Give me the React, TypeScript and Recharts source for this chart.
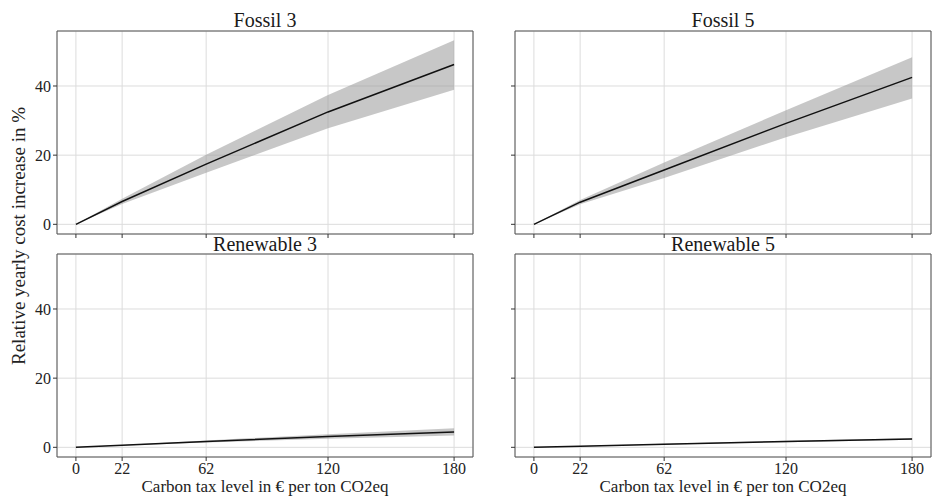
import React from 'react';
import { ComposedChart, Area, Line, XAxis, YAxis, CartesianGrid, ReferenceArea } from 'recharts';

// carbon tax levels (€/t CO2eq)
const taxLevels = [0, 22, 62, 120, 180];
const yTicks = [0, 20, 40];

const fossil3Mean = [0, 6.6, 17.4, 32.5, 46.2];
const fossil3Low = [0, 5.9, 14.9, 27.8, 38.9];
const fossil3High = [0, 7.4, 20.1, 37.4, 53.2];

const fossil5Mean = [0, 6.4, 15.7, 29.2, 42.5];
const fossil5Low = [0, 5.8, 13.4, 25.2, 36.4];
const fossil5High = [0, 7.0, 17.9, 33.0, 48.3];

const renewable3Mean = [0, 0.6, 1.7, 3.1, 4.4];
const renewable3Low = [0, 0.5, 1.4, 2.5, 3.4];
const renewable3High = [0, 0.7, 2.0, 3.8, 5.5];

const renewable5Mean = [0, 0.3, 0.9, 1.7, 2.4];
const renewable5Low = [0, 0.25, 0.8, 1.5, 2.2];
const renewable5High = [0, 0.35, 1.0, 1.9, 2.6];

const X_DOMAIN: [number, number] = [-9, 189];
const Y_DOMAIN: [number, number] = [-2.8, 55.9];
const FONT = '"Liberation Serif", "DejaVu Serif", serif';

const rows = (mean: number[], low: number[], high: number[]) =>
  taxLevels.map((x, i) => ({ x, mean: mean[i], band: [low[i], high[i]] }));

type PanelProps = {
  title: string;
  data: { x: number; mean: number; band: number[] }[];
  left: number;
  top: number;
  width: number;
  height: number;
  margin: { top: number; right: number; bottom: number; left: number };
  yAxisWidth: number;
  showYLabels: boolean;
  showXLabels: boolean;
  titleOffset: number;
};

function Panel(p: PanelProps) {
  const blank = () => '';
  return (
    <div style={{ position: 'absolute', left: p.left, top: p.top }}>
      <ComposedChart width={p.width} height={p.height} data={p.data} margin={p.margin}>
        <CartesianGrid stroke="#dcdcdc" strokeWidth={1} />
        <XAxis
          dataKey="x"
          type="number"
          domain={X_DOMAIN}
          ticks={taxLevels}
          allowDataOverflow
          axisLine={false}
          tickSize={4}
          tickMargin={2}
          tickLine={{ stroke: '#333' }}
          tick={{ fontSize: 16, fill: '#222' }}
          tickFormatter={p.showXLabels ? undefined : blank}
          height={p.showXLabels ? 41 : 6}
          label={
            p.showXLabels
              ? { value: 'Carbon tax level in € per ton CO2eq', position: 'insideBottom', offset: 6, fontSize: 17, fill: '#222' }
              : undefined
          }
        />
        <YAxis
          type="number"
          domain={Y_DOMAIN}
          ticks={yTicks}
          allowDataOverflow
          axisLine={false}
          width={p.yAxisWidth}
          tickSize={4}
          tickMargin={2}
          tickLine={{ stroke: '#333' }}
          tick={{ fontSize: 16, fill: '#222' }}
          tickFormatter={p.showYLabels ? undefined : blank}
        />
        <Area
          type="linear"
          dataKey="band"
          stroke="none"
          fill="#999999"
          fillOpacity={0.55}
          isAnimationActive={false}
        />
        <Line
          type="linear"
          dataKey="mean"
          stroke="#111"
          strokeWidth={1.5}
          dot={false}
          isAnimationActive={false}
        />
        <ReferenceArea
          x1={X_DOMAIN[0]}
          x2={X_DOMAIN[1]}
          y1={Y_DOMAIN[0]}
          y2={Y_DOMAIN[1]}
          fill="none"
          stroke="#555"
          strokeWidth={1}
          ifOverflow="visible"
          label={{ value: p.title, position: 'top', offset: p.titleOffset, fontSize: 20, fill: '#1a1a1a' }}
        />
      </ComposedChart>
    </div>
  );
}

export default function App() {
  return (
    <div
      style={{
        position: 'absolute',
        left: 0,
        top: 0,
        width: 932,
        height: 498,
        background: '#fff',
        fontFamily: FONT,
        overflow: 'hidden',
      }}
    >
      <Panel
        title="Fossil 3"
        data={rows(fossil3Mean, fossil3Low, fossil3High)}
        left={0}
        top={0}
        width={480}
        height={240}
        margin={{ top: 31, right: 7, bottom: 0, left: 17 }}
        yAxisWidth={40}
        showYLabels
        showXLabels={false}
        titleOffset={4}
      />
      <Panel
        title="Fossil 5"
        data={rows(fossil5Mean, fossil5Low, fossil5High)}
        left={480}
        top={0}
        width={452}
        height={240}
        margin={{ top: 31, right: 1, bottom: 0, left: 5 }}
        yAxisWidth={30}
        showYLabels={false}
        showXLabels={false}
        titleOffset={4}
      />
      <Panel
        title="Renewable 3"
        data={rows(renewable3Mean, renewable3Low, renewable3High)}
        left={0}
        top={222}
        width={480}
        height={276}
        margin={{ top: 32, right: 7, bottom: 0, left: 17 }}
        yAxisWidth={40}
        showYLabels
        showXLabels
        titleOffset={3}
      />
      <Panel
        title="Renewable 5"
        data={rows(renewable5Mean, renewable5Low, renewable5High)}
        left={480}
        top={222}
        width={452}
        height={276}
        margin={{ top: 32, right: 1, bottom: 0, left: 5 }}
        yAxisWidth={30}
        showYLabels={false}
        showXLabels
        titleOffset={3}
      />
      <svg
        width={40}
        height={498}
        style={{ position: 'absolute', left: 0, top: 0 }}
      >
        <text
          x={25}
          y={236}
          transform="rotate(-90 25 236)"
          textAnchor="middle"
          fontSize={19}
          fill="#222"
        >
          Relative yearly cost increase in %
        </text>
      </svg>
    </div>
  );
}
